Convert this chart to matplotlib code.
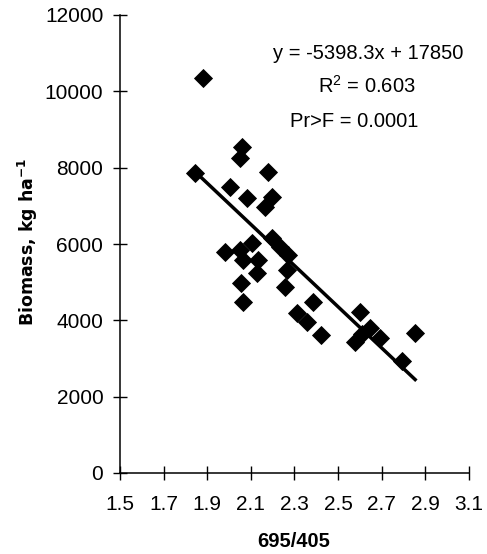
import matplotlib
matplotlib.use("Agg")
import matplotlib.pyplot as plt
import numpy as np

plt.rcParams['font.family'] = ['Liberation Sans', 'DejaVu Sans']

# Data (695/405 ratio vs biomass)
ratio = [1.882, 1.844, 2.058, 2.050, 2.180, 2.004, 2.081, 2.196, 2.165,
         1.981, 2.050, 2.104, 2.065, 2.134, 2.127, 2.053, 2.065, 2.196,
         2.234, 2.272, 2.264, 2.257, 2.310, 2.386, 2.359, 2.420, 2.600,
         2.578, 2.646, 2.692, 2.853, 2.792, 2.610]
biomass = [10341, 7868, 8549, 8245, 7894, 7501, 7197, 7239, 6977,
           5798, 5843, 6034, 5581, 5581, 5232, 4970, 4488, 6149,
           5929, 5712, 5319, 4881, 4184, 4488, 3964, 3616, 4226,
           3440, 3791, 3529, 3676, 2942, 3640]
slope = -5398.3
intercept = 17850

x_ticks = [1.5, 1.7, 1.9, 2.1, 2.3, 2.5, 2.7, 2.9, 3.1]
x_tick_labels = ["1.5", "1.7", "1.9", "2.1", "2.3", "2.5", "2.7", "2.9", "3.1"]
y_ticks = [0, 2000, 4000, 6000, 8000, 10000, 12000]

fig = plt.figure(figsize=(4.87, 5.54), dpi=100)
ax = fig.add_axes([120/487, 1 - 473/554, 349/487, 458/554])

ax.plot(ratio, biomass, linestyle='none', marker='D', color='black',
        markersize=8.8, markeredgewidth=0.6, zorder=3)

xr = np.array([min(ratio), max(ratio)])
ax.plot(xr, slope * xr + intercept, color='black', linewidth=2.5, zorder=2)

ax.set_xlim(1.5, 3.1)
ax.set_ylim(0, 12000)
ax.set_xticks(x_ticks)
ax.set_xticklabels(x_tick_labels)
ax.set_yticks(y_ticks)

for s in ['top', 'right']:
    ax.spines[s].set_visible(False)
for s in ['left', 'bottom']:
    ax.spines[s].set_linewidth(1.1)
    ax.spines[s].set_color('black')

ax.tick_params(axis='both', direction='inout', length=10, width=1.0,
               labelsize=15, colors='black')
ax.tick_params(axis='x', pad=10.5)
ax.tick_params(axis='y', pad=7)

ax.set_xlabel("695/405", fontsize=14.5, fontweight='bold')
ax.xaxis.set_label_coords(0.497, -0.128)
ax.set_ylabel("Biomass, kg ha$^{\\mathregular{-1}}$", fontsize=12.5,
              fontweight='bold', family=['DejaVu Sans'])
ax.yaxis.set_label_coords(-0.228, 0.505)

ax.text(0.711, 0.917, "y = -5398.3x + 17850", transform=ax.transAxes,
        ha='center', va='center', fontsize=14.5)
ax.text(0.708, 0.846, "R$^{\\mathregular{2}}$ = 0.603", transform=ax.transAxes,
        ha='center', va='center', fontsize=14.5)
ax.text(0.670, 0.768, "Pr>F = 0.0001", transform=ax.transAxes,
        ha='center', va='center', fontsize=14.5)

fig.savefig("out.png", dpi=100)
